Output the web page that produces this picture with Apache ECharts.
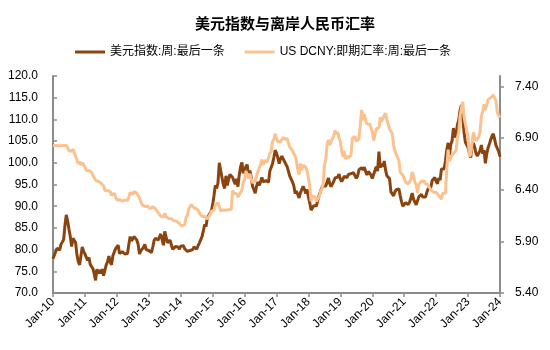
<!DOCTYPE html>
<html>
<head>
<meta charset="utf-8">
<script src="https://cdn.jsdelivr.net/npm/echarts@6/dist/echarts.min.js"></script>
<style>
  html, body { margin: 0; padding: 0; background: #ffffff; }
  #chart { width: 550px; height: 350px; }
</style>
</head>
<body>
<div id="chart"></div>
<script>
// Semi-monthly observations (1st and 16th of each month), Jan 2010 – Jan 2024
const firstYear = 2010;
const yearTicks = ['Jan-10', 'Jan-11', 'Jan-12', 'Jan-13', 'Jan-14', 'Jan-15', 'Jan-16',
  'Jan-17', 'Jan-18', 'Jan-19', 'Jan-20', 'Jan-21', 'Jan-22', 'Jan-23', 'Jan-24'];
const leftTicks = [70, 75, 80, 85, 90, 95, 100, 105, 110, 115, 120];
const rightTicks = [5.4, 5.9, 6.4, 6.9, 7.4];

// 美元指数:周:最后一条
const dollarIndex = [
  // 2010
  77.9, 77.5, 79.5, 80.3, 80.4, 79.9, 81.2, 81.4, 82.3, 85.6, 88.0, 86.6,
  84.7, 83.0, 80.7, 82.6, 82.8, 81.6, 78.8, 77.2, 76.5, 78.6, 80.6, 79.6,
  // 2011
  79.0, 78.9, 77.5, 78.2, 76.6, 76.9, 75.6, 74.4, 72.9, 75.5, 74.5, 75.3,
  74.5, 75.5, 74.0, 74.3, 76.5, 77.2, 78.5, 77.1, 76.5, 78.6, 78.5, 80.2,
  // 2012
  80.2, 81.0, 79.1, 78.9, 79.5, 79.6, 79.0, 79.2, 79.1, 81.2, 83.0, 82.0,
  81.7, 83.0, 82.7, 82.2, 81.2, 79.0, 79.7, 79.7, 80.5, 81.2, 80.0, 79.6,
  // 2013
  79.8, 80.0, 79.3, 80.6, 82.1, 82.6, 82.8, 82.2, 82.0, 83.6, 84.0, 81.0,
  84.2, 82.9, 81.6, 81.3, 82.2, 81.0, 80.1, 80.0, 80.7, 80.5, 80.6, 80.1,
  // 2014
  80.8, 81.2, 80.9, 80.2, 79.9, 79.6, 80.0, 79.8, 79.5, 80.0, 80.6, 80.5,
  80.1, 80.9, 81.5, 81.9, 83.0, 84.3, 85.8, 85.3, 87.3, 87.6, 88.4, 88.9,
  // 2015
  90.3, 92.4, 94.8, 94.1, 95.3, 100.0, 98.3, 98.6, 95.0, 94.1, 97.0, 94.8,
  96.2, 97.3, 97.3, 96.6, 95.8, 95.1, 96.3, 94.5, 97.2, 99.1, 100.1, 97.6,
  // 2016
  98.6, 99.0, 99.6, 96.5, 98.2, 96.6, 94.6, 94.7, 93.0, 94.6, 95.6, 94.8,
  95.6, 96.6, 95.6, 95.7, 95.9, 96.1, 95.5, 98.1, 97.9, 99.8, 101.2, 102.9,
  // 2017
  102.2, 101.2, 99.8, 100.9, 101.5, 100.9, 100.3, 100.5, 99.1, 98.7, 96.9, 97.2,
  95.6, 94.7, 92.9, 93.5, 92.7, 91.9, 93.1, 93.1, 94.6, 93.9, 92.9, 93.9,
  // 2018
  92.1, 90.8, 89.1, 89.1, 90.1, 89.8, 90.1, 89.8, 92.5, 93.3, 94.2, 94.8,
  94.5, 94.6, 94.6, 96.5, 95.2, 94.5, 95.1, 95.7, 96.5, 96.9, 96.7, 97.4,
  // 2019
  96.2, 95.7, 95.6, 96.9, 96.5, 96.6, 97.3, 97.0, 97.5, 97.8, 97.7, 97.0,
  96.4, 97.0, 98.4, 98.2, 98.9, 98.3, 99.0, 98.0, 97.2, 98.0, 98.3, 97.2,
  // 2020
  96.4, 97.3, 97.4, 99.1, 98.1, 102.6, 98.9, 99.8, 99.1, 100.4, 98.3, 97.0,
  97.2, 96.3, 93.3, 93.1, 92.4, 93.3, 93.8, 93.7, 94.0, 92.4, 91.0, 90.0,
  // 2021
  89.9, 90.8, 90.6, 90.4, 90.9, 91.9, 93.0, 91.6, 91.3, 90.3, 90.0, 92.2,
  92.2, 92.7, 92.1, 92.5, 92.1, 93.2, 94.0, 93.9, 94.3, 95.9, 96.1, 96.6,
  // 2022
  95.7, 95.2, 96.5, 96.0, 98.6, 98.3, 98.6, 100.5, 103.0, 104.6, 101.7, 104.2,
  105.1, 108.0, 105.9, 106.5, 108.8, 109.8, 112.1, 113.3, 110.7, 106.9, 104.7, 104.7,
  // 2023
  103.5, 102.2, 101.2, 103.9, 104.6, 103.6, 102.1, 101.6, 101.7, 102.8, 104.1, 102.1,
  102.9, 99.9, 102.0, 103.4, 104.3, 105.3, 106.2, 106.7, 106.6, 104.0, 103.3, 102.6,
  // Jan 2024
  101.4
];

// US DCNY:即期汇率:周:最后一条
const usdCny = [
  // 2010
  6.827, 6.827, 6.827, 6.827, 6.826, 6.826, 6.826, 6.826, 6.827, 6.827, 6.827, 6.828,
  6.779, 6.774, 6.770, 6.794, 6.804, 6.721, 6.689, 6.648, 6.673, 6.638, 6.660, 6.663,
  // 2011
  6.623, 6.585, 6.590, 6.585, 6.571, 6.568, 6.540, 6.533, 6.493, 6.500, 6.481, 6.478,
  6.465, 6.461, 6.438, 6.392, 6.380, 6.390, 6.379, 6.381, 6.346, 6.350, 6.366, 6.332,
  // 2012
  6.300, 6.318, 6.303, 6.298, 6.290, 6.285, 6.297, 6.310, 6.298, 6.325, 6.374, 6.362,
  6.353, 6.383, 6.381, 6.365, 6.352, 6.322, 6.282, 6.254, 6.237, 6.237, 6.232, 6.240,
  // 2013
  6.231, 6.215, 6.231, 6.235, 6.220, 6.215, 6.210, 6.178, 6.160, 6.144, 6.131, 6.134,
  6.172, 6.138, 6.130, 6.120, 6.121, 6.118, 6.120, 6.100, 6.093, 6.093, 6.092, 6.072,
  // 2014
  6.054, 6.048, 6.061, 6.063, 6.128, 6.152, 6.213, 6.222, 6.257, 6.235, 6.253, 6.219,
  6.208, 6.204, 6.174, 6.155, 6.141, 6.137, 6.143, 6.125, 6.116, 6.127, 6.156, 6.190,
  // 2015
  6.206, 6.202, 6.252, 6.253, 6.273, 6.256, 6.196, 6.202, 6.203, 6.203, 6.200, 6.208,
  6.205, 6.210, 6.210, 6.392, 6.369, 6.370, 6.356, 6.328, 6.320, 6.373, 6.396, 6.470,
  // 2016
  6.494, 6.578, 6.578, 6.520, 6.553, 6.502, 6.468, 6.477, 6.483, 6.530, 6.573, 6.590,
  6.647, 6.692, 6.641, 6.630, 6.686, 6.666, 6.672, 6.749, 6.769, 6.864, 6.886, 6.941,
  // 2017
  6.951, 6.860, 6.875, 6.865, 6.886, 6.906, 6.886, 6.882, 6.896, 6.884, 6.809, 6.810,
  6.778, 6.771, 6.726, 6.676, 6.593, 6.546, 6.654, 6.589, 6.638, 6.622, 6.617, 6.580,
  // 2018
  6.507, 6.434, 6.287, 6.340, 6.338, 6.328, 6.285, 6.280, 6.333, 6.376, 6.409, 6.445,
  6.633, 6.690, 6.838, 6.881, 6.830, 6.863, 6.865, 6.920, 6.974, 6.937, 6.959, 6.900,
  // 2019
  6.866, 6.772, 6.718, 6.775, 6.697, 6.721, 6.712, 6.712, 6.737, 6.897, 6.908, 6.915,
  6.867, 6.880, 6.894, 7.027, 7.171, 7.072, 7.129, 7.068, 7.037, 7.018, 7.034, 7.000,
  // 2020
  6.963, 6.875, 6.927, 6.990, 6.988, 7.001, 7.098, 7.060, 7.075, 7.118, 7.138, 7.078,
  7.070, 6.987, 6.976, 6.943, 6.832, 6.773, 6.791, 6.710, 6.686, 6.568, 6.564, 6.540,
  // 2021
  6.524, 6.472, 6.469, 6.456, 6.465, 6.499, 6.571, 6.529, 6.474, 6.447, 6.369, 6.453,
  6.462, 6.481, 6.463, 6.484, 6.459, 6.445, 6.445, 6.433, 6.398, 6.386, 6.375, 6.367,
  // 2022
  6.376, 6.355, 6.358, 6.328, 6.308, 6.365, 6.355, 6.368, 6.608, 6.788, 6.674, 6.713,
  6.700, 6.751, 6.744, 6.779, 6.900, 6.959, 7.115, 7.190, 7.250, 7.097, 7.084, 6.968,
  // 2023
  6.908, 6.720, 6.742, 6.848, 6.954, 6.900, 6.873, 6.870, 6.911, 6.958, 7.110, 7.155,
  7.226, 7.170, 7.185, 7.268, 7.263, 7.290, 7.297, 7.316, 7.315, 7.261, 7.147, 7.118,
  // Jan 2024
  7.098
];

// category labels: 1st and 16th of every month
const dates = dollarIndex.map(function (_, i) {
  const y = firstYear + Math.floor(i / 24);
  const m = Math.floor((i % 24) / 2) + 1;
  const d = i % 2 === 0 ? '01' : '16';
  return y + '-' + (m < 10 ? '0' + m : m) + '-' + d;
});

const latin = '"Liberation Sans", Arial, "Noto Sans CJK SC", sans-serif';
const cjk = '"Noto Sans CJK SC", "Liberation Sans", sans-serif';
const axisGray = '#8c8c8c';
const brown = '#8a4410';
const peach = '#fbc290';
const legendIcon = 'path://M0,0 L30,0 L30,3 L0,3 Z';

const chart = echarts.init(document.getElementById('chart'), null, { renderer: 'canvas' });

chart.setOption({
  animation: false,
  backgroundColor: '#ffffff',
  title: {
    text: '美元指数与离岸人民币汇率',
    left: 280,
    textAlign: 'center',
    top: 11,
    textStyle: { fontFamily: cjk, fontSize: 15, fontWeight: 'bold', color: '#000000' }
  },
  legend: {
    top: 41,
    left: 70,
    itemWidth: 30,
    itemHeight: 3,
    itemGap: 20,
    textStyle: { fontFamily: latin, fontSize: 12, color: '#000000' },
    data: [
      { name: '美元指数:周:最后一条', icon: legendIcon, itemStyle: { color: brown } },
      { name: 'US DCNY:即期汇率:周:最后一条', icon: legendIcon, itemStyle: { color: peach } }
    ]
  },
  grid: { left: 53, right: 50, top: 76, bottom: 57, containLabel: false },
  xAxis: {
    type: 'category',
    data: dates,
    boundaryGap: false,
    axisLine: { lineStyle: { color: axisGray, width: 2 } },
    axisTick: { show: true, interval: 23, length: 4, lineStyle: { color: axisGray, width: 1.5 } },
    axisLabel: {
      interval: 23,
      rotate: 45,
      margin: 7,
      fontFamily: latin,
      fontSize: 12,
      color: '#000000',
      formatter: function (value, index) {
        return yearTicks[Math.round(index / 24)];
      }
    },
    splitLine: { show: false }
  },
  yAxis: [
    {
      type: 'value',
      min: leftTicks[0],
      max: leftTicks[leftTicks.length - 1],
      interval: 5,
      axisLine: { show: true, lineStyle: { color: axisGray, width: 2 } },
      axisTick: { show: true, inside: true, length: 4, lineStyle: { color: axisGray, width: 1.5 } },
      axisLabel: {
        margin: 15,
        fontFamily: latin,
        fontSize: 12,
        color: '#000000',
        formatter: function (v) { return v.toFixed(1); }
      },
      splitLine: { show: false }
    },
    {
      type: 'value',
      min: 5.4,
      max: 7.5,
      position: 'right',
      axisLine: { show: true, lineStyle: { color: axisGray, width: 2 } },
      axisTick: { show: true, length: 4, customValues: rightTicks, lineStyle: { color: axisGray, width: 1.5 } },
      axisLabel: {
        margin: 15,
        fontFamily: latin,
        fontSize: 12,
        color: '#000000',
        customValues: rightTicks,
        formatter: function (v) { return v.toFixed(2); }
      },
      splitLine: { show: false }
    }
  ],
  series: [
    {
      name: '美元指数:周:最后一条',
      type: 'line',
      yAxisIndex: 0,
      data: dollarIndex,
      symbol: 'none',
      showSymbol: false,
      lineStyle: { color: brown, width: 3 },
      itemStyle: { color: brown }
    },
    {
      name: 'US DCNY:即期汇率:周:最后一条',
      type: 'line',
      yAxisIndex: 1,
      data: usdCny,
      symbol: 'none',
      showSymbol: false,
      lineStyle: { color: peach, width: 3 },
      itemStyle: { color: peach }
    }
  ]
});
</script>
</body>
</html>
